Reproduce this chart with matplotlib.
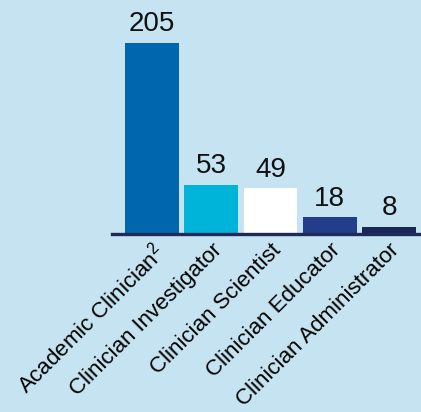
import matplotlib
matplotlib.use("Agg")
import matplotlib.pyplot as plt

# role counts
roles = ["Academic Clinician$^{2}$", "Clinician Investigator", "Clinician Scientist",
         "Clinician Educator", "Clinician Administrator"]
counts = [205, 53, 49, 18, 8]
colors = ["#0066ad", "#00b4d9", "#ffffff", "#233c8c", "#1b2659"]

bg = "#c5e3f0"
plt.rcParams["font.family"] = ["Liberation Sans", "DejaVu Sans"]
plt.rcParams["mathtext.fontset"] = "custom"
plt.rcParams["mathtext.rm"] = "Liberation Sans"
plt.rcParams["mathtext.it"] = "Liberation Sans"

fig = plt.figure(figsize=(4.21, 4.12), dpi=100, facecolor=bg)
ax = fig.add_axes([112 / 421, 1 - 234 / 412, (421 - 112) / 421, 220 / 412])
ax.set_facecolor(bg)

x = range(len(counts))
bars = ax.bar(x, counts, width=0.91, color=colors, zorder=2)
for xi, v in zip(x, counts):
    ax.text(xi, v + 6, str(v), ha="center", va="bottom", fontsize=20, color="#111111")

ax.set_xlim(-0.675, 4.54)
ax.set_ylim(0, 236)
for s in ["top", "right", "left"]:
    ax.spines[s].set_visible(False)
ax.spines["bottom"].set_color("#1f2a5a")
ax.spines["bottom"].set_linewidth(2.4)
ax.set_yticks([])
ax.set_xticks(list(x))
ax.set_xticklabels(roles, rotation=45, ha="right", rotation_mode="anchor", fontsize=16)
ax.tick_params(axis="x", length=0, pad=4)

fig.savefig("out.png", dpi=100, facecolor=bg)
